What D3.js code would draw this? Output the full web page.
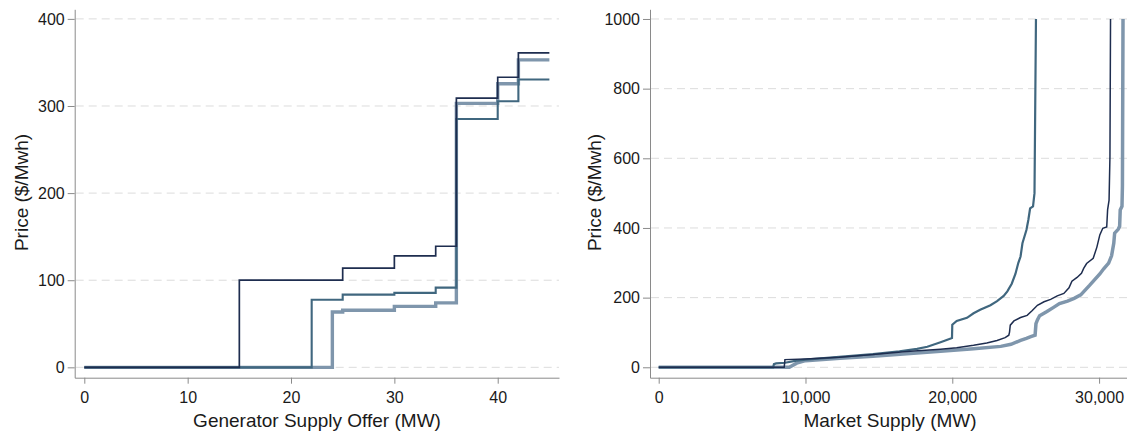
<!DOCTYPE html>
<html>
<head>
<meta charset="utf-8">
<script src="https://cdn.jsdelivr.net/npm/d3@7"></script>
<style>
  html, body { margin: 0; padding: 0; background: #fff; }
  svg { display: block; }
  text { font-family: "Liberation Sans", Arial, sans-serif; fill: #1a1a1a; }
</style>
</head>
<body>
<svg id="chart" width="1127" height="432"></svg>
<script>
// ---- Left panel: a single generator's supply offer (step functions) ----
const offerA_mw    = [0, 15, 25, 30, 34, 36, 40, 42, 45];
const offerA_price = [0, 100, 114, 128, 139, 309, 333, 361, 361];
const offerB_mw    = [0, 22, 25, 30, 34, 36, 40, 42, 45];
const offerB_price = [0, 77.5, 83.5, 85.5, 91.5, 285, 305.5, 330.5, 330.5];
const offerC_mw    = [0, 24, 25, 30, 34, 36, 40, 42, 45];
const offerC_price = [0, 63.5, 65.5, 70, 74, 303, 325.5, 353, 353];
const offerXTicks  = [0, 10, 20, 30, 40];
const offerYTicks  = [0, 100, 200, 300, 400];

// ---- Right panel: aggregate market supply curves ----
const supplyA_mw    = [0, 8550, 8600, 10000, 12300, 14600, 16900, 19200, 20300, 21450, 22350, 23050, 23600, 23850, 23900, 23950, 24200, 24650, 25100, 25450, 25800, 26250, 26700, 27150, 27600, 27950, 28150, 28500, 28800, 28950, 29150, 29600, 29850, 30050, 30250, 30520, 30580, 30680, 30740, 30780];
const supplyA_price = [0, 0, 22, 24, 29, 37, 45, 52, 56, 63, 70, 77, 85, 92, 101, 121, 133, 143, 149, 163, 178, 188, 195, 205, 212, 228, 247, 258, 270, 284, 298, 313, 345, 380, 399, 403, 452, 480, 605, 1000];
const supplyB_mw    = [0, 7800, 7850, 8000, 8600, 9400, 10000, 12300, 14600, 16400, 17600, 18300, 19200, 19850, 19980, 20000, 20300, 21000, 21450, 21900, 22600, 23050, 23500, 23750, 24050, 24300, 24500, 24650, 24780, 24850, 25050, 25180, 25300, 25500, 25600, 25700];
const supplyB_price = [0, 0, 9, 11, 13, 19, 22, 30, 38, 46, 53, 59, 72, 82, 84, 122, 133, 142, 155, 165, 178, 190, 205, 218, 240, 268, 300, 318, 356, 366, 394, 423, 456, 462, 500, 1000];
const supplyC_mw    = [0, 8900, 9400, 10000, 12350, 14600, 16900, 19200, 21450, 23300, 24000, 24650, 25050, 25350, 25640, 25700, 25800, 25950, 26450, 26900, 27300, 27850, 28300, 28750, 29350, 30050, 30300, 30650, 30850, 31000, 31060, 31300, 31400, 31440, 31560, 31590, 31630];
const supplyC_price = [0, 0, 12, 19, 26, 32, 39, 46, 53, 60, 66, 77, 83, 88, 92, 125, 136, 148, 160, 172, 183, 190, 198, 208, 235, 268, 282, 299, 320, 356, 385, 396, 405, 452, 462, 520, 1000];
const supplyXTicks  = [0, 10000, 20000, 30000];
const supplyYTicks  = [0, 200, 400, 600, 800, 1000];

const zip = (xs, ys) => xs.map((x, i) => [x, ys[i]]);

const colors = { navy: "#1e2d4f", steel: "#40677f", light: "#7f96ac" };

const svg = d3.select("#chart");

function panel(opts) {
  const g = svg.append("g");
  const x = d3.scaleLinear().domain(opts.xDomain).range(opts.xRange);
  const y = d3.scaleLinear().domain(opts.yDomain).range(opts.yRange);

  // dashed horizontal gridlines
  g.append("g").selectAll("line").data(opts.yTicks).join("line")
    .attr("x1", opts.xRange[0] + 1).attr("x2", opts.xRange[1])
    .attr("y1", d => y(d)).attr("y2", d => y(d))
    .attr("stroke", "#dcdcdc").attr("stroke-width", 1)
    .attr("stroke-dasharray", "8,5");

  // series
  const line = d3.line().x(d => x(d[0])).y(d => y(d[1])).curve(opts.curve);
  opts.series.forEach(s => {
    g.append("path").datum(s.data)
      .attr("d", line)
      .attr("fill", "none")
      .attr("stroke", s.color)
      .attr("stroke-width", s.width)
      .attr("stroke-linejoin", "miter");
  });

  // axes
  const xAxis = d3.axisBottom(x).tickValues(opts.xTicks).tickFormat(opts.xFormat)
    .tickSizeInner(6).tickSizeOuter(0).tickPadding(8);
  const yAxis = d3.axisLeft(y).tickValues(opts.yTicks).tickFormat(d3.format("d"))
    .tickSizeInner(7).tickSizeOuter(0).tickPadding(3);

  const gx = g.append("g").attr("transform", `translate(0,${opts.yRange[0]})`).call(xAxis);
  const gy = g.append("g").attr("transform", `translate(${opts.xRange[0]},0)`).call(yAxis);
  [gx, gy].forEach(a => {
    a.selectAll("path, line").attr("stroke", "#8a8a8a").attr("stroke-width", 1);
    a.selectAll("text").style("font-size", "16px").attr("fill", "#1a1a1a")
      .style("font-family", '"Liberation Sans", Arial, sans-serif');
  });

  // axis titles
  g.append("text")
    .attr("x", opts.xTitleX).attr("y", 427)
    .attr("text-anchor", "middle").style("font-size", "19px")
    .text(opts.xTitle);
  g.append("text")
    .attr("transform", `translate(${opts.yTitleX},192.5) rotate(-90)`)
    .attr("text-anchor", "middle").style("font-size", "19px")
    .text(opts.yTitle);
}

panel({
  xDomain: [-0.93, 45.93], xRange: [74.7, 559],
  yDomain: [-11.9, 411], yRange: [377.7, 9.3],
  xTicks: offerXTicks, yTicks: offerYTicks,
  xFormat: d3.format("d"),
  curve: d3.curveStepAfter,
  xTitle: "Generator Supply Offer (MW)", xTitleX: 317,
  yTitle: "Price ($/Mwh)", yTitleX: 27.5,
  series: [
    { data: zip(offerC_mw, offerC_price), color: colors.light, width: 3.4 },
    { data: zip(offerB_mw, offerB_price), color: colors.steel, width: 2.1 },
    { data: zip(offerA_mw, offerA_price), color: colors.navy,  width: 1.7 }
  ]
});

panel({
  xDomain: [-592, 32106], xRange: [650, 1130],
  yDomain: [-29.9, 1027.8], yRange: [377.7, 9.3],
  xTicks: supplyXTicks, yTicks: supplyYTicks,
  xFormat: d3.format(",d"),
  curve: d3.curveLinear,
  xTitle: "Market Supply (MW)", xTitleX: 890,
  yTitle: "Price ($/Mwh)", yTitleX: 600.5,
  series: [
    { data: zip(supplyC_mw, supplyC_price), color: colors.light, width: 3.5 },
    { data: zip(supplyB_mw, supplyB_price), color: colors.steel, width: 2.2 },
    { data: zip(supplyA_mw, supplyA_price), color: colors.navy,  width: 1.5 }
  ]
});
</script>
</body>
</html>
